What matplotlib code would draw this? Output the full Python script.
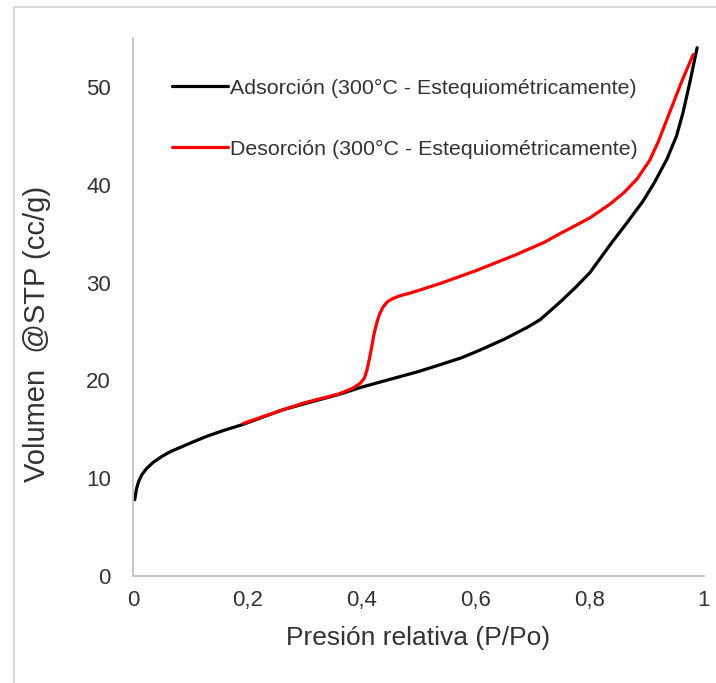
import numpy as np
import matplotlib
matplotlib.use('Agg')
import matplotlib.pyplot as plt
from matplotlib.patches import Rectangle

plt.rcParams['font.family'] = ['Liberation Sans', 'DejaVu Sans']

# Adsorption branch (black).
ads_p = [0.003, 0.006, 0.010, 0.016, 0.024, 0.035, 0.050, 0.065, 0.085, 0.105,
         0.130, 0.160, 0.193, 0.230, 0.263, 0.300, 0.363, 0.400, 0.450, 0.500,
         0.538, 0.575, 0.608, 0.650, 0.690, 0.713, 0.748, 0.775, 0.800, 0.820,
         0.840, 0.865, 0.893, 0.913, 0.935, 0.952, 0.963, 0.975, 0.988]
ads_v = [7.8, 8.9, 9.7, 10.4, 11.0, 11.6, 12.2, 12.7, 13.2, 13.7,
         14.3, 14.9, 15.5, 16.3, 17.0, 17.6, 18.6, 19.3, 20.1, 20.9,
         21.6, 22.3, 23.1, 24.2, 25.4, 26.2, 28.0, 29.5, 31.0, 32.6,
         34.2, 36.1, 38.3, 40.2, 42.6, 45.0, 47.3, 50.4, 54.0]

# Desorption branch (red).
des_p = [0.981, 0.960, 0.940, 0.920, 0.905, 0.883, 0.860, 0.835, 0.800, 0.748,
         0.720, 0.669, 0.600, 0.538, 0.490, 0.465, 0.453, 0.445, 0.438, 0.432,
         0.427, 0.422, 0.418, 0.414, 0.410, 0.405, 0.398, 0.385, 0.360, 0.300,
         0.263, 0.193]
des_v = [53.3, 50.4, 47.4, 44.4, 42.5, 40.6, 39.2, 38.0, 36.6, 35.0,
         34.1, 32.8, 31.2, 29.9, 29.0, 28.6, 28.3, 28.0, 27.5, 26.8,
         25.9, 24.7, 23.4, 22.2, 21.1, 20.2, 19.7, 19.2, 18.6, 17.7,
         17.0, 15.6]

x_ticks = [0, 0.2, 0.4, 0.6, 0.8, 1]
x_labels = ['0', '0,2', '0,4', '0,6', '0,8', '1']
y_ticks = [0, 10, 20, 30, 40, 50]

ads_label = 'Adsorción (300°C - Estequiométricamente)'
des_label = 'Desorción (300°C - Estequiométricamente)'

fig = plt.figure(figsize=(7.16, 6.83), dpi=100)
ax = fig.add_axes([0.1858, 0.1567, 0.7974, 0.7877])

# light frame round the chart, cut off at right and bottom
fig.patches.append(Rectangle((14 / 716, -1), 2, 1 + (683 - 7) / 683,
                             transform=fig.transFigure, fill=False,
                             edgecolor='#d9d9d9', linewidth=1.5))

ax.plot(ads_p, ads_v, color='black', linewidth=2.3, label=ads_label,
        solid_capstyle='round', solid_joinstyle='round')
ax.plot(des_p, des_v, color='#ff0000', linewidth=2.3, label=des_label,
        solid_capstyle='round', solid_joinstyle='round')

ax.set_xlim(0, 1)
ax.set_ylim(0, 55)
ax.set_xticks(x_ticks)
ax.set_xticklabels(x_labels)
ax.set_yticks(y_ticks)

for s in ['top', 'right']:
    ax.spines[s].set_visible(False)
for s in ['left', 'bottom']:
    ax.spines[s].set_color('#bfbfbf')
    ax.spines[s].set_linewidth(1.2)

ax.tick_params(axis='both', length=0, labelsize=16, labelcolor='#333333')
ax.tick_params(axis='y', pad=16)
ax.tick_params(axis='x', pad=10)

ax.set_xlabel('Presión relativa (P/Po)', fontsize=19, color='#333333', labelpad=11)
ax.set_ylabel('Volumen  @STP (cc/g)', fontsize=21, color='#333333')
ax.yaxis.set_label_coords(-0.143, 0.45)

leg = ax.legend(loc='upper left', bbox_to_anchor=(0.035, 0.96), frameon=False,
                fontsize=15.4, handlelength=2.6, handletextpad=0.1,
                labelspacing=1.95)
for t in leg.get_texts():
    t.set_color('#333333')

fig.savefig('out.png', dpi=100)
